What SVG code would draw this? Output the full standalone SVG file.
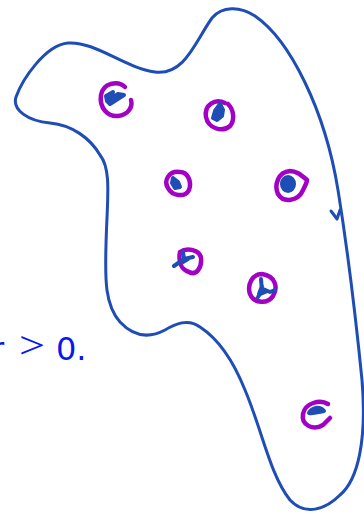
<svg xmlns="http://www.w3.org/2000/svg" width="364" height="514" viewBox="0 0 364 514">
<style>
.outline{fill:none;stroke:#1d4db5;stroke-width:3;stroke-linecap:round;stroke-linejoin:round}
.ring{fill:none;stroke:#a300c6;stroke-width:4.5;stroke-linecap:round;stroke-linejoin:round}
.dot{fill:#1d4db5;stroke:#1d4db5;stroke-width:4;stroke-linecap:round;stroke-linejoin:round}
.lbl{font-family:"DejaVu Sans","Liberation Sans",sans-serif;font-size:32px;fill:#0a16f0}
.op{font-family:"Liberation Serif","DejaVu Serif",serif;font-size:40px;fill:#0a16f0}
</style>
<rect width="364" height="514" fill="#ffffff"/>
<g id="region">
<path class="outline" d="M 16,97 C 22,80 45,45 68,43 C 95,41 125,68 155,72 C 185,76 196,40 212,18 C 222,6 240,6 255,16 C 290,40 325,110 338,190 C 346,240 356,320 362,380 C 367,440 358,480 340,495 C 325,510 305,516 290,500 C 270,475 262,430 245,390 C 235,365 220,340 200,327 C 188,318 175,324 165,330 C 150,338 135,338 120,322 C 105,305 105,280 106,245 C 107,200 112,170 100,155 C 90,138 72,125 50,123 C 28,121 12,110 16,97 Z"/>
<path class="outline" d="M 331,211 L 337,219 L 340,210"/>
</g>
<g id="p1">
<path class="ring" d="M 125,87 C 118,80 103,83 101,95 C 99,108 108,117 118,116 C 128,115 133,107 131,100"/>
<path class="dot" d="M 106,96 L 113,92 L 111,99 L 118,94 L 124,95 L 110,104 L 107,101 Z"/>
</g>
<g id="p2">
<path class="ring" d="M 225,103 C 215,98 204,105 206,117 C 208,128 222,133 230,126 C 235,120 234,110 228,104"/>
<path class="dot" d="M 220,104 L 223,110 L 222,116 L 217,120 L 213,118 L 215,111 Z"/>
</g>
<g id="p3">
<path class="ring" d="M 180,172 C 170,170 163,180 168,188 C 172,196 185,198 189,190 C 192,182 188,172 180,172 Z"/>
<path class="dot" d="M 173,178 L 178,182 L 180,187 L 175,188 L 172,183 Z"/>
</g>
<g id="p4">
<path class="ring" d="M 290,171 C 278,172 274,185 278,194 C 284,204 298,200 302,192 C 304,188 307,183 307,180 C 300,174 296,171 290,171 Z"/>
<ellipse class="dot" cx="288" cy="184" rx="6" ry="7"/>
</g>
<g id="p5">
<path class="ring" d="M 180,252 C 187,247 200,250 201,258 C 202,268 196,276 189,272 C 182,270 178,263 180,252 Z"/>
<path class="dot" d="M 174,266 L 184,259 L 193,257 M 184,259 L 183,252 M 183,262 L 188,259"/>
</g>
<g id="p6">
<path class="ring" d="M 262,274 C 252,274 247,285 250,294 C 254,304 268,304 273,296 C 278,288 276,276 262,274 Z"/>
<path class="dot" d="M 261,279 L 262,292 M 258,297 L 263,289 L 270,292 L 275,290 M 259,294 L 262,286"/>
</g>
<g id="p7">
<path class="ring" d="M 328,404 C 320,399 305,403 303,414 C 301,425 313,431 323,425 L 330,418"/>
<path class="dot" d="M 309,413 C 312,407 320,406 324,411 C 318,412 313,414 309,413 Z"/>
</g>
<g id="label">
<text class="lbl" x="-9" y="360">r</text>
<text class="op" transform="translate(19,358) scale(1.15,0.95)">&gt;</text>
<text class="lbl" x="56" y="360">0.</text>
</g>
</svg>
